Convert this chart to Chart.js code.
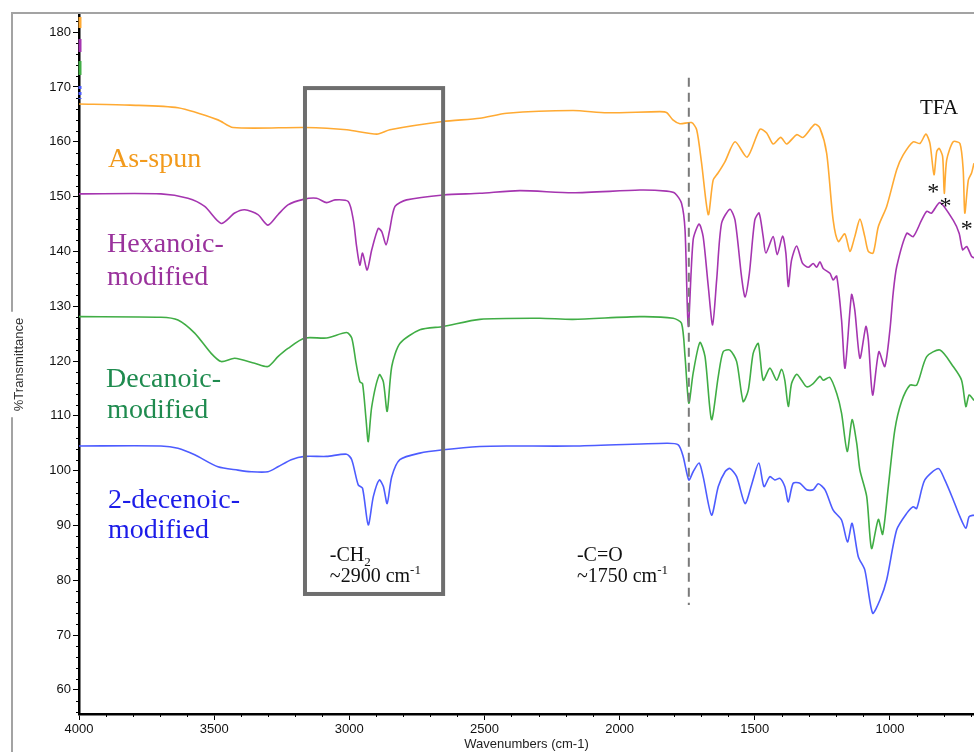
<!DOCTYPE html>
<html>
<head>
    <title>FTIR spectra</title>
    <style>
        body { margin: 0; background: #fff; }
        canvas { display: block; }
    </style>
    <script src="https://cdn.jsdelivr.net/npm/chart.js"></script>
</head>
<body>
    <canvas id="ftirChart" width="974" height="752"></canvas>

    <script>
        // wavenumber (cm-1) / %T pairs
        const asSpunWn = [4000,3811,3634,3486,3430,3164,3009,2898,2850,2654,2517,2417,2173,2047,1851,1825,1803,1777,1734,1715,1697,1672,1654,1636,1610,1573,1528,1481,1456,1432,1404,1382,1345,1321,1278,1259,1234,1210,1191,1167,1148,1130,1111,1093,1080,1062,1043,1012,975,951,914,889,867,852,837,827,818,805,799,790,766,741,729,723,710,698,689];
        const asSpunT = [166.9,166.7,166.2,164.0,162.6,162.6,162.2,161.4,162.2,163.7,164.3,165.2,165.7,165.3,165.5,165.3,164.0,163.3,163.5,162.2,156.2,146.7,153.0,154.3,156.4,160.0,157.2,162.3,161.6,159.6,160.8,159.6,161.3,160.8,163.2,162.5,157.9,145.7,141.8,143.2,140.0,142.7,145.9,142.7,140.0,139.7,144.5,148.2,154.9,157.6,160.0,159.7,161.4,159.7,154.0,158.2,158.8,157.3,150.6,156.7,160.0,159.7,154.9,147.0,153.0,154.3,156.1];

        const hexWn = [4000,3697,3597,3535,3474,3424,3387,3338,3301,3264,3227,3170,3121,3084,3053,3004,2985,2973,2961,2951,2934,2917,2893,2880,2864,2852,2831,2788,2652,2517,2369,2173,1925,1826,1795,1771,1758,1746,1728,1706,1691,1672,1656,1641,1623,1592,1573,1549,1536,1520,1500,1484,1469,1459,1432,1417,1397,1385,1376,1364,1345,1323,1302,1284,1271,1259,1247,1222,1210,1197,1179,1166,1142,1130,1111,1089,1080,1064,1041,1019,1000,988,975,938,914,883,864,846,815,766,744,731,716,698,689];
        const hexT = [150.5,150.5,149.7,148.2,145.1,147.0,147.6,146.7,144.8,146.7,148.5,149.5,149.7,148.9,149.4,149.1,145.7,140.9,137.5,139.7,136.6,140.3,144.2,143.6,141.2,143.6,148.2,149.4,150.3,150.6,151.1,150.7,151.2,151.0,150.6,148.8,143.9,126.3,142.1,145.0,142.7,133.6,126.6,134.8,145.1,147.7,145.7,135.4,131.7,136.0,145.7,147.0,142.7,139.7,142.7,139.4,142.8,139.7,133.6,138.4,141.0,137.8,137.1,137.8,137.1,138.1,136.9,136.0,134.8,135.5,127.5,118.7,132.1,129.3,120.5,126.3,123.9,113.8,121.7,119.0,125.7,132.4,137.2,143.3,142.7,145.7,147.3,147.0,148.9,145.7,143.3,140.3,140.9,139.1,138.8];

        const decWn = [4000,3697,3634,3572,3511,3474,3424,3350,3301,3264,3227,3165,3084,3010,2991,2975,2961,2951,2938,2930,2917,2889,2874,2860,2843,2813,2739,2652,2517,2295,2173,1925,1802,1771,1758,1744,1728,1703,1684,1660,1635,1617,1592,1567,1543,1524,1506,1487,1469,1444,1419,1401,1389,1376,1364,1345,1327,1308,1284,1259,1247,1222,1197,1179,1158,1140,1123,1111,1086,1068,1043,1027,1006,982,957,926,901,864,815,766,735,719,707,689];
        const decT = [128.1,128.0,127.5,125.1,121.4,119.9,120.5,119.6,119.0,120.8,122.3,124.2,124.2,125.2,124.2,119.6,116.2,115.9,109.3,105.3,111.7,117.5,116.2,110.8,119.0,123.2,125.7,126.3,127.6,127.8,127.6,128.1,127.8,126.9,120.8,112.3,117.8,123.4,120.8,109.3,117.2,121.7,122.0,119.9,112.6,114.7,121.4,123.2,116.5,118.7,116.5,118.5,116.5,111.7,115.9,117.6,116.5,115.3,115.9,117.2,116.5,117.0,114.1,110.5,103.5,109.3,105.0,100.1,95.3,85.8,91.1,88.4,97.1,107.4,112.6,115.6,115.6,120.8,122.0,119.0,116.5,111.7,113.8,112.8];

        const decenWn = [4000,3697,3634,3572,3486,3412,3363,3301,3264,3215,3165,3084,3010,2991,2967,2951,2930,2911,2889,2874,2860,2843,2813,2739,2652,2517,2418,2172,1826,1783,1765,1744,1728,1706,1691,1660,1635,1610,1592,1567,1536,1512,1485,1466,1444,1426,1407,1389,1376,1358,1333,1308,1284,1265,1240,1210,1179,1157,1140,1117,1093,1064,1037,1012,975,938,914,901,871,821,797,766,741,719,707,689];
        const decenT = [104.5,104.5,104.1,102.9,100.7,100.1,99.8,99.8,100.7,102.0,102.6,102.6,103.0,102.0,97.4,96.8,90.1,95.3,98.3,97.1,94.0,98.9,102.0,103.2,103.8,104.4,104.5,104.5,105.0,104.7,102.6,98.3,99.8,101.4,98.9,91.9,97.1,99.8,100.4,98.9,94.0,97.4,101.4,97.1,98.9,98.3,98.6,97.1,94.3,97.7,97.7,96.5,96.5,97.6,96.5,92.8,91.0,87.0,90.4,84.3,81.9,74.0,76.4,80.1,89.2,92.2,93.4,93.1,98.3,100.4,98.3,94.7,91.6,89.5,91.6,91.9];

        // axis tick labels
        const xTicks = [4000, 3500, 3000, 2500, 2000, 1500, 1000];
        const yTicks = [60, 70, 80, 90, 100, 110, 120, 130, 140, 150, 160, 170, 180];

        // series names written on the plot, with their anchor (wavenumber, %T)
        const nameLines = ['As-spun', 'Hexanoic-', 'modified', 'Decanoic-', 'modified', '2-decenoic-', 'modified'];
        const nameWn = [3893, 3896, 3896, 3900, 3896, 3893, 3893];
        const nameT = [155.4, 139.9, 133.9, 115.3, 109.6, 93.2, 87.7];
        const nameSeries = [0, 1, 1, 2, 2, 3, 3];

        // TFA peaks marked with *
        const starWn = [840, 794, 716];
        const starT = [151.5, 149.1, 144.8];

        const lineColors = ['#FFAA33', '#A535B0', '#40AD45', '#4D5CFF'];
        const textColors = ['#F29A1C', '#9A329C', '#1F8B4F', '#1C1CE8'];
        const serif = '"Liberation Serif", "Times New Roman", serif';
        const sans = '"Liberation Sans", Arial, sans-serif';

        function pairs(wn, t) {
            return wn.map((w, i) => ({ x: w, y: t[i] }));
        }

        // draws a line of text made of runs, some of them sub/superscript
        function drawRuns(ctx, runs, x, y, size) {
            runs.forEach(r => {
                const s = r.sub || r.sup ? Math.round(size * 0.65) : size;
                ctx.font = s + 'px ' + serif;
                const dy = r.sub ? size * 0.25 : (r.sup ? -size * 0.4 : 0);
                ctx.fillText(r.t, x, y + dy);
                x += ctx.measureText(r.t).width;
            });
        }

        const decorations = {
            id: 'decorations',
            afterDatasetsDraw(chart) {
                const { ctx, scales: { x, y } } = chart;
                ctx.save();

                // box round the CH2 region
                ctx.strokeStyle = '#6e6e6e';
                ctx.lineWidth = 4;
                const bx1 = x.getPixelForValue(3164), bx2 = x.getPixelForValue(2653);
                const by1 = y.getPixelForValue(169.8), by2 = y.getPixelForValue(77.5);
                ctx.strokeRect(bx1, by1, bx2 - bx1, by2 - by1);

                // dashed marker at the C=O band
                ctx.strokeStyle = '#7a7a7a';
                ctx.lineWidth = 2;
                ctx.setLineDash([9, 6]);
                ctx.beginPath();
                ctx.moveTo(x.getPixelForValue(1744), y.getPixelForValue(171.7));
                ctx.lineTo(x.getPixelForValue(1744), y.getPixelForValue(75.5));
                ctx.stroke();
                ctx.setLineDash([]);

                // series names
                ctx.textAlign = 'left';
                ctx.textBaseline = 'alphabetic';
                ctx.font = '28px ' + serif;
                nameLines.forEach((txt, i) => {
                    ctx.fillStyle = textColors[nameSeries[i]];
                    ctx.fillText(txt, x.getPixelForValue(nameWn[i]), y.getPixelForValue(nameT[i]));
                });

                // band labels
                ctx.fillStyle = '#111';
                drawRuns(ctx, [{ t: '-CH' }, { t: '2', sub: true }], x.getPixelForValue(3072), y.getPixelForValue(83.5), 20);
                drawRuns(ctx, [{ t: '~2900 cm' }, { t: '-1', sup: true }], x.getPixelForValue(3072), y.getPixelForValue(79.7), 20);
                drawRuns(ctx, [{ t: '-C=O' }], x.getPixelForValue(2158), y.getPixelForValue(83.5), 20);
                drawRuns(ctx, [{ t: '~1750 cm' }, { t: '-1', sup: true }], x.getPixelForValue(2158), y.getPixelForValue(79.7), 20);
                drawRuns(ctx, [{ t: 'TFA' }], x.getPixelForValue(889), y.getPixelForValue(165.1), 21);

                ctx.font = '24px ' + serif;
                ctx.textAlign = 'center';
                starWn.forEach((w, i) => {
                    ctx.fillText('*', x.getPixelForValue(w), y.getPixelForValue(starT[i]) + 11);
                });
                ctx.restore();
            },
            afterDraw(chart) {
                const { ctx, scales: { x, y }, chartArea: area } = chart;
                ctx.save();

                // minor ticks
                ctx.strokeStyle = '#000';
                ctx.lineWidth = 1;
                ctx.beginPath();
                for (let w = 700; w <= 4000; w += 100) {
                    if (w % 500 === 0) continue;
                    const px = Math.round(x.getPixelForValue(w)) + 0.5;
                    ctx.moveTo(px, area.bottom);
                    ctx.lineTo(px, area.bottom + 3);
                }
                for (let t = 56; t <= 182; t += 2) {
                    if (t % 10 === 0) continue;
                    const py = Math.round(y.getPixelForValue(t)) + 0.5;
                    ctx.moveTo(area.left - 3, py);
                    ctx.lineTo(area.left, py);
                }
                ctx.stroke();

                // little offset markers at the top of the axis
                const marks = [[4, 15], [26, 39], [48, 62], [73, 86]];
                marks.forEach((m, i) => {
                    ctx.strokeStyle = lineColors[i];
                    ctx.lineWidth = 3;
                    if (i === 3) ctx.setLineDash([3, 3]);
                    ctx.beginPath();
                    ctx.moveTo(area.left + 1, area.top + m[0]);
                    ctx.lineTo(area.left + 1, area.top + m[1]);
                    ctx.stroke();
                    ctx.setLineDash([]);
                });

                // outer grey frame, broken by the y title
                const midY = (area.top + area.bottom) / 2 + 1;
                ctx.font = '13px ' + sans;
                const tw = ctx.measureText('%Transmittance').width;
                ctx.strokeStyle = '#a3a3a3';
                ctx.lineWidth = 2;
                ctx.beginPath();
                ctx.moveTo(12, chart.height);
                ctx.lineTo(12, midY + tw / 2 + 6);
                ctx.moveTo(12, midY - tw / 2 - 6);
                ctx.lineTo(12, area.top);
                ctx.lineTo(chart.width, area.top);
                ctx.stroke();

                ctx.translate(19, midY);
                ctx.rotate(-Math.PI / 2);
                ctx.fillStyle = '#333';
                ctx.textAlign = 'center';
                ctx.textBaseline = 'middle';
                ctx.fillText('%Transmittance', 0, 0);
                ctx.restore();
            }
        };

        const series = [
            { label: 'As-spun', data: pairs(asSpunWn, asSpunT) },
            { label: 'Hexanoic-modified', data: pairs(hexWn, hexT) },
            { label: 'Decanoic-modified', data: pairs(decWn, decT) },
            { label: '2-decenoic-modified', data: pairs(decenWn, decenT) }
        ];

        new Chart(document.getElementById('ftirChart').getContext('2d'), {
            type: 'line',
            data: {
                datasets: series.map((s, i) => ({
                    label: s.label,
                    data: s.data,
                    borderColor: lineColors[i],
                    borderWidth: 1.6,
                    pointRadius: 0,
                    fill: false,
                    tension: 0.25
                }))
            },
            options: {
                responsive: false,
                animation: false,
                devicePixelRatio: 1,
                layout: { padding: { top: 13, left: 0, right: 0, bottom: 0 } },
                plugins: { legend: { display: false }, tooltip: { enabled: false } },
                scales: {
                    x: {
                        type: 'linear',
                        reverse: true,
                        min: 689,
                        max: 4000,
                        afterBuildTicks(scale) { scale.ticks = xTicks.map(v => ({ value: v })); },
                        afterFit(scale) { scale.height = 38; },
                        ticks: {
                            maxRotation: 0,
                            autoSkip: false,
                            padding: 2,
                            color: '#111',
                            font: { family: sans, size: 13 },
                            callback: v => String(v)
                        },
                        grid: { drawOnChartArea: false, drawTicks: true, tickLength: 6, tickColor: '#000', tickWidth: 1 },
                        border: { color: '#000', width: 2.5 },
                        title: {
                            display: true,
                            text: 'Wavenumbers (cm-1)',
                            color: '#222',
                            font: { family: sans, size: 13 },
                            padding: { top: 0, bottom: 0 }
                        }
                    },
                    y: {
                        min: 55.6,
                        max: 183.5,
                        afterBuildTicks(scale) { scale.ticks = yTicks.map(v => ({ value: v })); },
                        afterFit(scale) { scale.width = 79; },
                        ticks: {
                            padding: 2,
                            color: '#111',
                            font: { family: sans, size: 13 },
                            callback: v => String(v)
                        },
                        grid: { drawOnChartArea: false, drawTicks: true, tickLength: 6, tickColor: '#000', tickWidth: 1 },
                        border: { color: '#000', width: 2.5 }
                    }
                }
            },
            plugins: [decorations]
        });
    </script>
</body>
</html>
